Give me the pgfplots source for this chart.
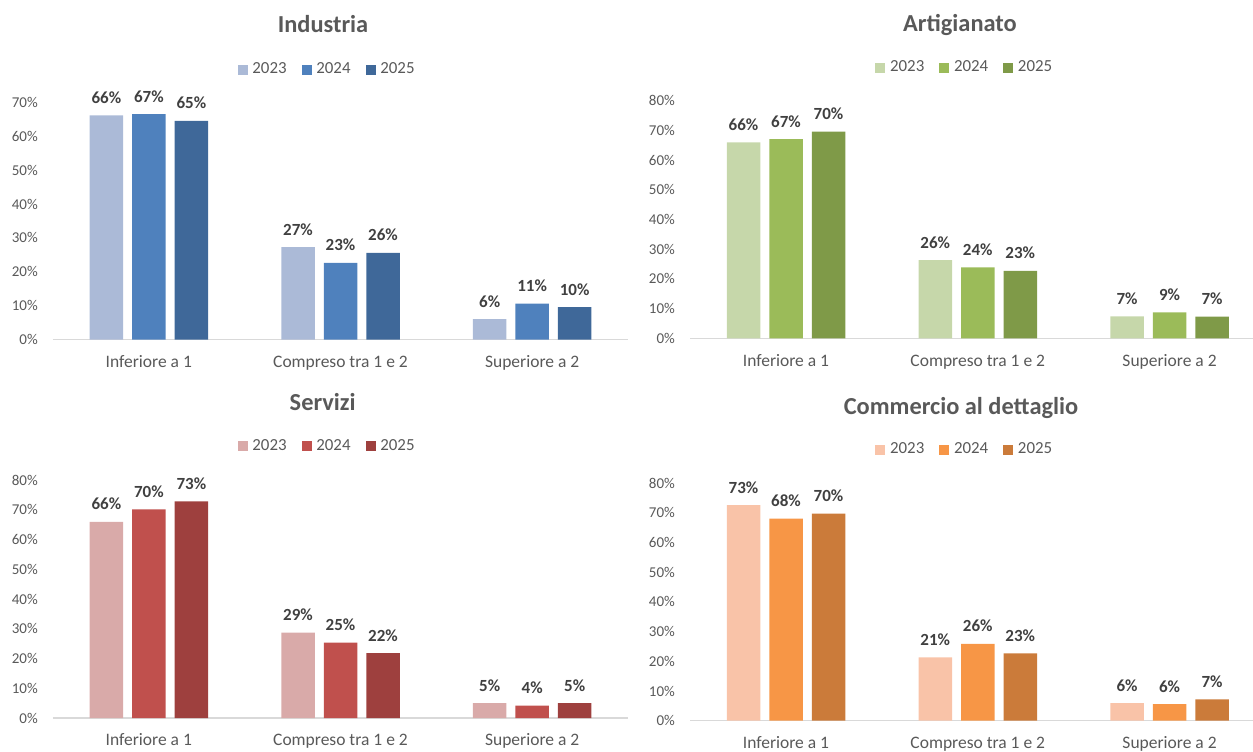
\documentclass[border=0pt]{standalone}
\usepackage{fontspec}
\setmainfont{Carlito}
\usepackage{pgfplots}
\pgfplotsset{compat=1.18}
\definecolor{txtgray}{HTML}{595959}
\definecolor{lblgray}{HTML}{404040}
\definecolor{axgray}{HTML}{D9D9D9}
\definecolor{bA}{HTML}{ABBAD7}\definecolor{bB}{HTML}{4F81BD}\definecolor{bC}{HTML}{3F6899}
\definecolor{gA}{HTML}{C6D7AA}\definecolor{gB}{HTML}{9BBB59}\definecolor{gC}{HTML}{7F9A48}
\definecolor{rA}{HTML}{D9AAA9}\definecolor{rB}{HTML}{C0504D}\definecolor{rC}{HTML}{9E403E}
\definecolor{oA}{HTML}{F9C3A8}\definecolor{oB}{HTML}{F79646}\definecolor{oC}{HTML}{CB7B3A}
\pgfplotsset{
  panel/.style={
    scale only axis, ybar=4.5pt, bar width=16.75pt,
    enlargelimits=false, xmin=-0.5, ymin=0, clip=false,
    /pgf/number format/assume math mode=true,
    xtick={0,1,2}, xticklabels={Inferiore a 1, Compreso tra 1 e 2, Superiore a 2},
    axis lines*=left, axis line style={-},
    y axis line style={draw=none},
    x axis line style={draw=axgray, line width=0.75pt},
    major tick length=0pt, tick style={draw=none},
    yticklabel={\pgfmathprintnumber{\tick}\%},
    yticklabel style={anchor=east, inner sep=0pt, xshift=-7.4pt, font=\fontsize{7.5pt}{9pt}\selectfont, text=txtgray},
    xticklabel style={anchor=base, inner sep=0pt, yshift=-13.85pt, font=\fontsize{8.75pt}{10pt}\selectfont, text=txtgray},
    nodes near coords={\pgfmathprintnumber[fixed,precision=0]{\pgfplotspointmeta}\%},
    every node near coord/.append style={anchor=base, inner sep=0pt, yshift=6pt, font=\fontsize{8.5pt}{10pt}\selectfont\bfseries, text=lblgray},
    legend columns=3,
    legend image code/.code={\fill[##1] (0pt,-2.5pt) rectangle (5pt,2.5pt);},
    legend style={draw=none, fill=none, anchor=center, font=\fontsize{8.45pt}{10pt}\selectfont, text=txtgray,
      nodes={inner sep=0pt},
      /tikz/every odd column/.append style={column sep=2.35pt},
      /tikz/every even column/.append style={column sep=7.5pt}},
  },
  leftp/.style={width=287.5pt, xmax=2.5},
  rightp/.style={width=281.45pt, xmax=2.435},
}
\begin{document}
\begin{tikzpicture}
\path[use as bounding box] (0pt,0pt) rectangle (626.5pt,-375.5pt);
% Industria
\begin{axis}[panel, leftp, height=118.5pt, ymax=70, ytick={0,10,...,70},
  at={(26.5pt,-169.75pt)}, anchor=south west,
  legend style={at={(0.475,1.1378)}}]
\addplot[fill=bA, draw=none] coordinates {(0,66.2) (1,27.3) (2,6.0)};
\addplot[fill=bB, draw=none] coordinates {(0,66.6) (1,22.6) (2,10.6)};
\addplot[fill=bC, draw=none] coordinates {(0,64.6) (1,25.6) (2,9.6)};
\legend{2023,2024,2025}
\end{axis}
% Artigianato
\begin{axis}[panel, rightp, height=118.8pt, ymax=80, ytick={0,10,...,80},
  at={(345.05pt,-169.15pt)}, anchor=south west,
  legend style={at={(0.4862,1.1383)}}]
\addplot[fill=gA, draw=none] coordinates {(0,66.0) (1,26.3) (2,7.4)};
\addplot[fill=gB, draw=none] coordinates {(0,67.1) (1,23.9) (2,8.7)};
\addplot[fill=gC, draw=none] coordinates {(0,69.6) (1,22.7) (2,7.3)};
\legend{2023,2024,2025}
\end{axis}
% Servizi
\begin{axis}[panel, leftp, height=119pt, ymax=80, ytick={0,10,...,80},
  at={(26.5pt,-359pt)}, anchor=south west,
  legend style={at={(0.475,1.141)}}]
\addplot[fill=rA, draw=none] coordinates {(0,65.9) (1,28.7) (2,5.0)};
\addplot[fill=rB, draw=none] coordinates {(0,70.1) (1,25.3) (2,4.2)};
\addplot[fill=rC, draw=none] coordinates {(0,72.8) (1,21.8) (2,5.0)};
\legend{2023,2024,2025}
\end{axis}
% Commercio al dettaglio
\begin{axis}[panel, rightp, height=118.85pt, ymax=80, ytick={0,10,...,80},
  at={(345.05pt,-360.35pt)}, anchor=south west,
  legend style={at={(0.4862,1.1395)}}]
\addplot[fill=oA, draw=none] coordinates {(0,72.6) (1,21.3) (2,5.9)};
\addplot[fill=oB, draw=none] coordinates {(0,68.0) (1,25.9) (2,5.6)};
\addplot[fill=oC, draw=none] coordinates {(0,69.7) (1,22.7) (2,7.2)};
\legend{2023,2024,2025}
\end{axis}
\begin{scope}[every node/.style={anchor=base, inner sep=0pt, font=\fontsize{12.2pt}{14pt}\selectfont\bfseries, text=txtgray}]
\node at (161.5pt,-16.1pt) {Industria};
\node at (480pt,-15.6pt) {Artigianato};
\node at (161.35pt,-205.25pt) {Servizi};
\node at (480.5pt,-207.4pt) {Commercio al dettaglio};
\end{scope}
\end{tikzpicture}
\end{document}
